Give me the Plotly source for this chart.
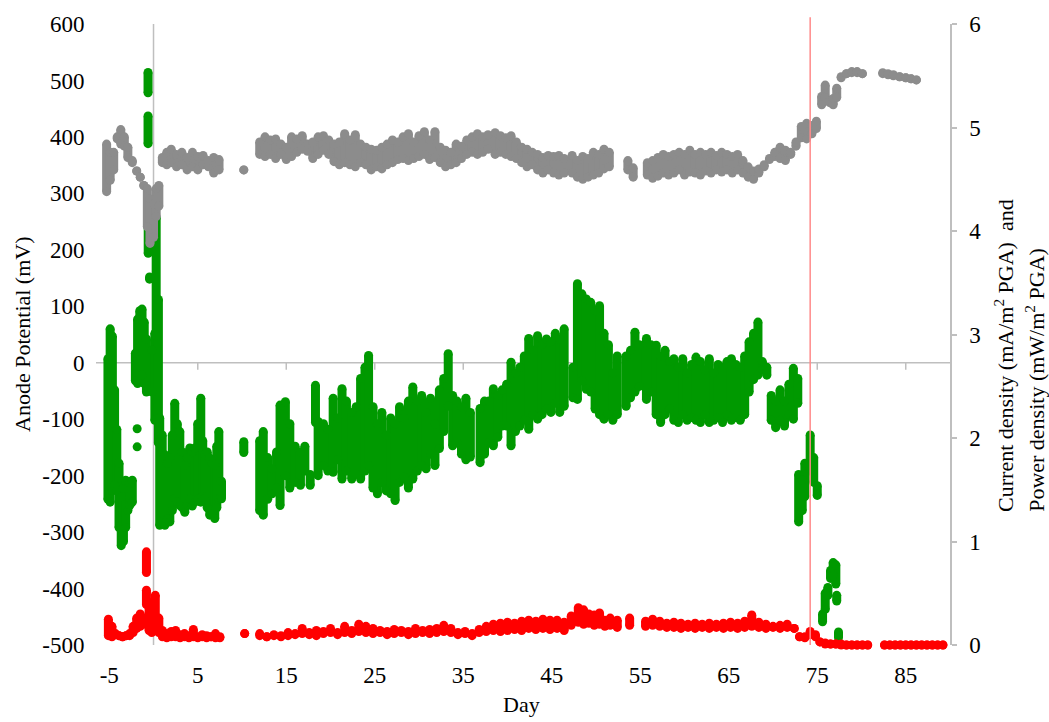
import plotly.graph_objects as go

# ---------------- data ----------------
x_ticks = [-5, 5, 15, 25, 35, 45, 55, 65, 75, 85]
y_left_ticks = [-500, -400, -300, -200, -100, 0, 100, 200, 300, 400, 500, 600]
y_right_ticks = [0, 1, 2, 3, 4, 5, 6]
event_day = 74.2   # red vertical marker

# Anode potential (mV, left axis): per-day vertical spread of the dense point cloud
green_day = [
    -5.15, -4.9, -4.65, -4.4, -4.15, -3.9, -3.65, -3.4, -3.15, -2.9, -2.65, -2.4,
    -2.05, -1.8, -1.55, -1.3, -1.05, -0.8, -0.62, -0.62, -0.6, -0.45, -0.15, 0.15, 0.3, 0.55,
    0.70, 0.98, 1.28, 1.56, 1.84, 2.12, 2.40, 2.68, 2.97, 3.25, 3.53, 3.82, 4.10, 4.38, 4.66, 5.00,
    5.34, 5.56, 5.79, 6.07, 6.36, 6.64, 6.92, 7.15, 7.38, 7.68,
    10.2, 12.0, 12.4, 12.9, 13.4, 13.9, 14.3, 14.9, 15.4, 16.0, 16.6, 17.1, 17.7, 18.3, 18.6, 19.2,
    19.7, 20.3, 20.8, 21.3, 21.8, 22.4, 22.9, 23.4, 23.9, 24.3, 24.8, 25.3, 25.8, 26.3, 26.8, 27.3,
    27.8, 28.3, 28.8,
    29.3, 29.8, 30.3, 30.8, 31.3, 31.8, 32.3, 32.8, 33.3, 33.8, 34.3, 34.8, 35.3, 35.8, 36.9, 37.4,
    37.9, 38.4, 38.9, 39.4, 39.9, 40.4, 40.9, 41.4, 41.9, 42.4, 42.9, 43.4, 43.9, 44.4, 44.9, 45.4,
    45.9, 46.4,
    47.4, 47.9, 48.4, 48.9, 49.4, 49.9, 50.4, 50.9, 51.4, 51.9, 52.4, 53.4, 53.9, 54.4, 54.9, 55.7,
    56.2, 56.8, 57.3, 57.8, 58.3, 58.8, 59.3, 59.8, 60.3, 60.8, 61.3, 61.8, 62.3, 62.8, 63.3, 63.8,
    64.3, 64.8, 65.3, 65.8, 66.3, 66.8, 67.3, 67.8, 68.3, 68.8, 69.3, 69.8, 70.3, 70.8, 71.3, 71.8,
    72.3, 72.8,
    72.9, 73.3, 73.6, 74.2, 74.6, 75.0, 75.6, 75.9, 76.2, 76.5, 76.8, 77.1, 77.2, 77.4,
]
green_lo = [
    -242, -247, -227, -217, -227, -292, -324, -317, -292, -262, -252, -247,
    -32, -37, -32, -22, -37, -52, 478, 388, 194, 148, -52, -102, 48, -142,
    -288, -282, -288, -277, -282, -262, -241, -247, -253, -257, -265, -252, -241, -254, -247, -242,
    -247, -237, -241, -257, -270, -267, -276, -257, -241, -241,
    -159, -262, -270, -242, -232, -222, -253, -200, -222, -212, -217, -192, -217, -106, -200, -182,
    -192, -194, -172, -206, -192, -206, -197, -206, -192, -182, -222, -232, -212, -227, -232, -244,
    -212, -202, -222,
    -206, -192, -182, -188, -162, -182, -152, -122, -77, -147, -142, -162, -172, -167, -177, -162,
    -142, -147, -132, -112, -112, -147, -122, -112, -102, -118, -92, -100, -92, -82, -88, -72,
    -88, -77,
    -62, -65, -32, -47, -52, -82, -92, -100, -92, -102, -92, -77, -62, -52, -42, -65,
    -52, -92, -106, -92, -82, -102, -106, -92, -102, -97, -102, -106, -92, -106, -102, -97,
    -106, -92, -102, -97, -102, -92, -52, -30, -22, -12, -22, -102, -115, -102, -112, -92,
    -100, -72,
    -282, -262, -237, -192, -212, -235, -459, -437, -412, -382, -377, -392, -422, -487,
]
green_hi = [
    7, 60, 47, -48, -118, -178, -238, -223, -208, -223, -213, -208,
    17, 77, 92, 95, 72, 42, 514, 437, 290, 152, 22, 52, 257, 112,
    -98, -128, -163, -178, -169, -128, -72, -108, -122, -158, -181, -168, -151, -158, -151, -108,
    -63, -138, -163, -158, -169, -178, -181, -148, -122, -210,
    -140, -138, -122, -168, -188, -158, -75, -69, -108, -148, -158, -148, -198, -40, -104, -108,
    -118, -63, -98, -46, -68, -88, -78, -28, -8, 13, -78, -108, -88, -128, -98, -108,
    -78, -98, -68,
    -43, -68, -58, -88, -63, -108, -48, -28, 16, -58, -68, -78, -63, -88, -81, -68,
    -68, -46, -58, -48, -38, 1, -18, -8, 12, 43, 22, 48, 32, 42, 37, 52,
    42, 60,
    -8, 140, 122, 113, 107, 92, 101, 52, 32, -18, 12, 12, 22, 54, 32, 43,
    32, 31, 12, 22, 2, 7, -8, 7, -18, -3, 10, 2, -13, 7, -18, -3,
    -8, 2, 7, -3, -8, 12, 37, 52, 72, 2, -8, -58, -68, -48, -68, -38,
    -10, -28,
    -198, -208, -178, -128, -168, -218, -445, -408, -398, -368, -354, -358, -412, -477,
]
green_pt_day = [-1.85, -1.85]
green_pt_mv = [-117, -149]

# Current density (right axis)
gray_day = [
    -5.3, -4.9, -4.5, -4.1, -3.7, -3.3, -2.9, -2.4, -1.9, -1.5, -1.1, -0.7, -0.4, 0.0, 0.3, 0.6,
    1.0, 1.5, 2.0, 2.6, 3.2, 3.8, 4.4, 5.0, 5.6, 6.2, 6.8, 7.4, 10.2,
    12.0, 12.6, 13.2, 13.8, 14.4, 15.0, 15.6, 16.2, 16.8, 17.4, 18.0, 18.6, 19.2, 19.8, 20.4, 21.0,
    21.6, 22.2, 22.8, 23.4, 24.0, 24.6, 25.2, 25.8, 26.4, 27.0, 27.6, 28.2, 28.8, 29.4, 30.0, 30.6,
    31.2, 31.8, 32.4, 33.0, 33.6, 34.2, 34.8, 35.4, 36.0, 36.6, 37.2, 37.8,
    38.6, 39.2, 39.8, 40.4, 41.0, 41.6, 42.2, 42.8, 43.4, 44.0, 44.6, 45.2, 45.8, 46.4, 47.3, 47.9,
    48.5, 49.1, 49.7, 50.3, 50.9, 51.5,
    53.6, 54.2, 55.8, 56.4, 57.0, 57.6, 58.2, 58.8, 59.4, 60.0, 60.6, 61.2, 61.8, 62.4, 63.0, 63.6,
    64.2, 64.8, 65.4, 66.0, 66.6, 67.2, 67.8, 68.4, 69.0, 69.6, 70.2, 70.8, 71.4, 72.0, 72.6, 73.2,
    73.8, 74.4, 74.9,
    75.5, 75.9, 76.4, 76.8, 77.2, 77.7, 78.3, 78.9, 79.5, 80.1, 82.4, 83.0, 83.6, 84.3, 85.0, 85.6,
    86.2,
]
gray_lo = [
    4.38, 4.49, 4.59, 4.89, 4.84, 4.82, 4.71, 4.66, 4.58, 4.52, 4.44, 4.04, 3.88, 3.94, 4.14, 4.24,
    4.66, 4.64, 4.66, 4.62, 4.64, 4.59, 4.62, 4.59, 4.64, 4.62, 4.56, 4.59, 4.59,
    4.74, 4.72, 4.74, 4.70, 4.74, 4.69, 4.72, 4.76, 4.79, 4.77, 4.70, 4.74, 4.78, 4.74, 4.67, 4.64,
    4.66, 4.64, 4.62, 4.66, 4.64, 4.59, 4.62, 4.60, 4.64, 4.66, 4.69, 4.70, 4.68, 4.70, 4.72, 4.74,
    4.69, 4.71, 4.66, 4.62, 4.64, 4.66, 4.70, 4.74, 4.76, 4.74, 4.76, 4.79,
    4.74, 4.76, 4.74, 4.72, 4.70, 4.66, 4.62, 4.64, 4.59, 4.56, 4.59, 4.56, 4.54, 4.56, 4.56, 4.52,
    4.50, 4.52, 4.54, 4.56, 4.60, 4.62,
    4.59, 4.52, 4.54, 4.51, 4.53, 4.56, 4.54, 4.56, 4.59, 4.54, 4.57, 4.56, 4.54, 4.58, 4.56, 4.59,
    4.57, 4.59, 4.56, 4.59, 4.56, 4.52, 4.50, 4.56, 4.62, 4.69, 4.72, 4.70, 4.68, 4.74, 4.82, 4.90,
    4.89, 4.94, 4.99,
    5.22, 5.29, 5.24, 5.22, 5.29, 5.48, 5.52, 5.53, 5.53, 5.52, 5.52, 5.51, 5.50, 5.49, 5.48, 5.47,
    5.46,
]
gray_hi = [
    4.84, 4.76, 4.76, 4.91, 4.98, 4.91, 4.81, 4.68, 4.58, 4.52, 4.44, 4.41, 4.31, 4.26, 4.41, 4.44,
    4.71, 4.76, 4.79, 4.74, 4.76, 4.71, 4.76, 4.72, 4.73, 4.68, 4.71, 4.69, 4.59,
    4.86, 4.91, 4.88, 4.89, 4.84, 4.81, 4.91, 4.89, 4.92, 4.84, 4.86, 4.91, 4.92, 4.88, 4.84, 4.86,
    4.94, 4.88, 4.93, 4.84, 4.81, 4.79, 4.78, 4.81, 4.84, 4.88, 4.86, 4.91, 4.94, 4.86, 4.92, 4.96,
    4.88, 4.96, 4.81, 4.78, 4.76, 4.84, 4.82, 4.88, 4.91, 4.94, 4.91, 4.93,
    4.95, 4.92, 4.90, 4.92, 4.86, 4.81, 4.79, 4.76, 4.74, 4.71, 4.73, 4.72, 4.73, 4.70, 4.73, 4.68,
    4.72, 4.70, 4.76, 4.74, 4.79, 4.76,
    4.68, 4.61, 4.66, 4.68, 4.71, 4.74, 4.72, 4.74, 4.76, 4.74, 4.78, 4.74, 4.76, 4.74, 4.76, 4.73,
    4.76, 4.74, 4.72, 4.74, 4.68, 4.62, 4.58, 4.60, 4.64, 4.70, 4.76, 4.81, 4.78, 4.76, 4.86, 5.01,
    5.04, 5.02, 5.06,
    5.30, 5.41, 5.26, 5.28, 5.38, 5.49, 5.52, 5.54, 5.54, 5.52, 5.53, 5.52, 5.51, 5.49, 5.48, 5.47,
    5.46,
]

# Power density (right axis)
red_day = [
    -5.1, -4.7, -4.3, -3.9, -3.5, -3.1, -2.7, -2.3, -1.9, -1.5, -1.1, -0.8, -0.8, -0.5, -0.2, 0.2,
    0.6, 1.0, 1.5, 2.0, 2.5, 3.0, 3.5, 4.0, 4.5, 5.0, 5.5, 6.0, 6.5, 7.0, 7.5, 10.3,
    12.0, 12.8, 13.6, 14.4, 15.2, 16.0, 16.8, 17.6, 18.4, 19.2, 20.0, 20.8, 21.6, 22.4, 23.2, 24.0,
    24.8, 25.6, 26.4, 27.2, 28.0, 28.8, 29.6, 30.4, 31.2, 32.0, 32.8, 33.6, 34.4, 35.2, 36.0, 36.8,
    37.6, 38.4, 39.2, 40.0, 40.8, 41.6, 42.4, 43.2, 44.0, 44.8, 45.6, 46.4,
    47.2, 48.0, 48.6, 49.2, 49.8, 50.4, 51.0, 51.6, 52.4, 53.8, 55.6, 56.4, 57.2, 58.0, 58.8, 59.6,
    60.4, 61.2, 62.0, 62.8, 63.6, 64.4, 65.2, 66.0, 66.8, 67.6, 68.4, 69.2, 70.0, 70.8, 71.6, 72.4,
    73.0, 73.6, 74.2, 74.8,
    75.3, 75.9, 76.5, 77.1, 77.7, 78.3, 78.9, 79.5, 80.1, 80.7, 82.6, 83.2, 83.8, 84.4, 85.0, 85.6,
    86.2, 86.8, 87.4, 88.0, 88.6, 89.2,
]
red_lo = [
    0.09, 0.08, 0.10, 0.09, 0.08, 0.09, 0.09, 0.12, 0.16, 0.18, 0.20, 0.70, 0.39, 0.14, 0.12, 0.14,
    0.12, 0.08, 0.07, 0.08, 0.08, 0.07, 0.08, 0.07, 0.08, 0.07, 0.08, 0.07, 0.08, 0.07, 0.07, 0.11,
    0.09, 0.08, 0.09, 0.08, 0.09, 0.10, 0.11, 0.10, 0.09, 0.11, 0.12, 0.10, 0.12, 0.11, 0.13, 0.12,
    0.11, 0.12, 0.10, 0.11, 0.12, 0.10, 0.11, 0.12, 0.11, 0.12, 0.13, 0.12, 0.10, 0.11, 0.09, 0.12,
    0.13, 0.14, 0.13, 0.14, 0.15, 0.14, 0.16, 0.15, 0.16, 0.15, 0.16, 0.14,
    0.19, 0.22, 0.20, 0.21, 0.19, 0.20, 0.18, 0.19, 0.17, 0.19, 0.18, 0.19, 0.18, 0.17, 0.17, 0.16,
    0.17, 0.16, 0.17, 0.16, 0.17, 0.16, 0.17, 0.16, 0.17, 0.18, 0.17, 0.16, 0.17, 0.16, 0.17, 0.16,
    0.08, 0.07, 0.10, 0.08,
    0.03, 0.01, 0.01, 0.01, 0.0, 0.0, 0.0, 0.0, 0.0, 0.0, 0.0, 0.0, 0.0, 0.0, 0.0, 0.0,
    0.0, 0.0, 0.0, 0.0, 0.0, 0.0,
]
red_hi = [
    0.25, 0.18, 0.11, 0.09, 0.08, 0.09, 0.11, 0.18, 0.26, 0.30, 0.26, 0.90, 0.53, 0.41, 0.31, 0.48,
    0.26, 0.14, 0.11, 0.13, 0.14, 0.10, 0.11, 0.09, 0.15, 0.08, 0.10, 0.09, 0.08, 0.11, 0.08, 0.11,
    0.11, 0.08, 0.10, 0.09, 0.12, 0.11, 0.16, 0.12, 0.14, 0.13, 0.16, 0.12, 0.18, 0.14, 0.20, 0.18,
    0.16, 0.14, 0.13, 0.15, 0.14, 0.13, 0.16, 0.14, 0.15, 0.16, 0.19, 0.16, 0.12, 0.13, 0.11, 0.15,
    0.18, 0.20, 0.21, 0.22, 0.21, 0.23, 0.24, 0.23, 0.25, 0.24, 0.24, 0.22,
    0.28, 0.36, 0.34, 0.30, 0.29, 0.31, 0.24, 0.26, 0.24, 0.26, 0.23, 0.25, 0.23, 0.21, 0.22, 0.21,
    0.20, 0.21, 0.20, 0.21, 0.20, 0.21, 0.22, 0.21, 0.23, 0.29, 0.22, 0.20, 0.18, 0.19, 0.20, 0.16,
    0.08, 0.08, 0.13, 0.10,
    0.03, 0.02, 0.01, 0.01, 0.01, 0.0, 0.0, 0.0, 0.0, 0.0, 0.0, 0.0, 0.0, 0.0, 0.0, 0.0,
    0.0, 0.0, 0.0, 0.0, 0.0, 0.0,
]

assert len(green_day) == len(green_lo) == len(green_hi)
assert len(gray_day) == len(gray_lo) == len(gray_hi)
assert len(red_day) == len(red_lo) == len(red_hi)

# ---------------- styling ----------------
GREEN = "#009900"
GRAY = "#8C8C8C"
RED = "#FF0000"
AXIS = "#BFBFBF"
FONT = "Liberation Serif"
FS = 23
DOT = 9

W, H = 1049, 722
ML, MR, MT, MB = 96, 99, 22, 77
PW, PH = W - ML - MR, H - MT - MB


def px_x(px):
    return (px - ML) / PW


def px_y(py):
    return (H - MB - py) / PH


def spread(days, lo, hi):
    xs, ys = [], []
    for d, a, b in zip(days, lo, hi):
        xs += [d, d, None]
        ys += [a, b, None]
    return xs, ys


fig = go.Figure()

gx, gy = spread(gray_day, gray_lo, gray_hi)
fig.add_trace(go.Scatter(x=gx, y=gy, yaxis="y2", mode="lines+markers",
                         line=dict(color=GRAY, width=DOT), marker=dict(size=DOT, color=GRAY),
                         cliponaxis=False, showlegend=False, hoverinfo="skip"))

vx, vy = spread(green_day, green_lo, green_hi)
fig.add_trace(go.Scatter(x=vx, y=vy, yaxis="y", mode="lines+markers",
                         line=dict(color=GREEN, width=DOT), marker=dict(size=DOT, color=GREEN),
                         cliponaxis=False, showlegend=False, hoverinfo="skip"))
fig.add_trace(go.Scatter(x=green_pt_day, y=green_pt_mv, yaxis="y", mode="markers",
                         marker=dict(size=DOT, color=GREEN),
                         cliponaxis=False, showlegend=False, hoverinfo="skip"))

rx, ry = spread(red_day, red_lo, red_hi)
fig.add_trace(go.Scatter(x=rx, y=ry, yaxis="y2", mode="lines+markers",
                         line=dict(color=RED, width=DOT), marker=dict(size=DOT, color=RED),
                         cliponaxis=False, showlegend=False, hoverinfo="skip"))

shapes = [
    # vertical axis crossing at day 0
    dict(type="line", xref="x", yref="paper", x0=0, x1=0, y0=0, y1=1,
         line=dict(color=AXIS, width=1.5), layer="below"),
    # horizontal axis crossing at 0 mV
    dict(type="line", xref="paper", yref="y", x0=0, x1=1, y0=0, y1=0,
         line=dict(color=AXIS, width=1.5), layer="below"),
    # event marker
    dict(type="line", xref="x", yref="paper", x0=event_day, x1=event_day, y0=0, y1=1.011,
         line=dict(color="#FF8A8A", width=1.5), layer="above"),
]
for t in x_ticks:
    shapes.append(dict(type="line", xref="x", yref="y", x0=t, x1=t,
                       ysizemode="pixel", yanchor=0, y0=0, y1=-7,
                       line=dict(color=AXIS, width=1.5), layer="below"))

tickfont = dict(family=FONT, size=FS, color="black")
annotations = [
    dict(text="Day", xref="paper", yref="paper", x=px_x(521), y=px_y(705),
         showarrow=False, font=dict(family=FONT, size=22, color="black"),
         xanchor="center", yanchor="middle"),
    dict(text="Anode Potential (mV)", xref="paper", yref="paper", x=px_x(22), y=px_y(333),
         showarrow=False, textangle=-90, font=dict(family=FONT, size=22, color="black"),
         xanchor="center", yanchor="middle"),
    dict(text="Current density (mA/m<sup>2</sup> PGA)\u00a0 and", xref="paper", yref="paper",
         x=px_x(1004), y=px_y(355), showarrow=False, textangle=-90,
         font=dict(family=FONT, size=22, color="black"), xanchor="center", yanchor="middle"),
    dict(text="Power density (mW/m<sup>2</sup> PGA)", xref="paper", yref="paper",
         x=px_x(1035), y=px_y(379), showarrow=False, textangle=-90,
         font=dict(family=FONT, size=22, color="black"), xanchor="center", yanchor="middle"),
]

fig.update_layout(
    width=W, height=H,
    margin=dict(l=ML, r=MR, t=MT, b=MB, pad=0),
    paper_bgcolor="white", plot_bgcolor="white",
    showlegend=False,
    shapes=shapes,
    annotations=annotations,
    xaxis=dict(range=[-6.5, 90], tickmode="array", tickvals=x_ticks,
               ticktext=[str(t) for t in x_ticks], showgrid=False, zeroline=False,
               showline=False, ticks="outside", ticklen=9, tickcolor="rgba(0,0,0,0)",
               tickfont=tickfont),
    yaxis=dict(range=[-500, 600], tickmode="array", tickvals=y_left_ticks,
               ticktext=[str(t) for t in y_left_ticks], showgrid=False, zeroline=False,
               showline=False, ticks="outside", ticklen=6, tickcolor="rgba(0,0,0,0)",
               tickfont=tickfont),
    yaxis2=dict(range=[0, 6], overlaying="y", side="right", tickmode="array",
                tickvals=y_right_ticks, ticktext=[str(t) for t in y_right_ticks],
                showgrid=False, zeroline=False, showline=True, linecolor=AXIS, linewidth=1.5,
                ticks="outside", ticklen=5, tickcolor=AXIS, tickwidth=1.5,
                ticklabelstandoff=8, tickfont=tickfont),
)

fig.write_html("out.html")
